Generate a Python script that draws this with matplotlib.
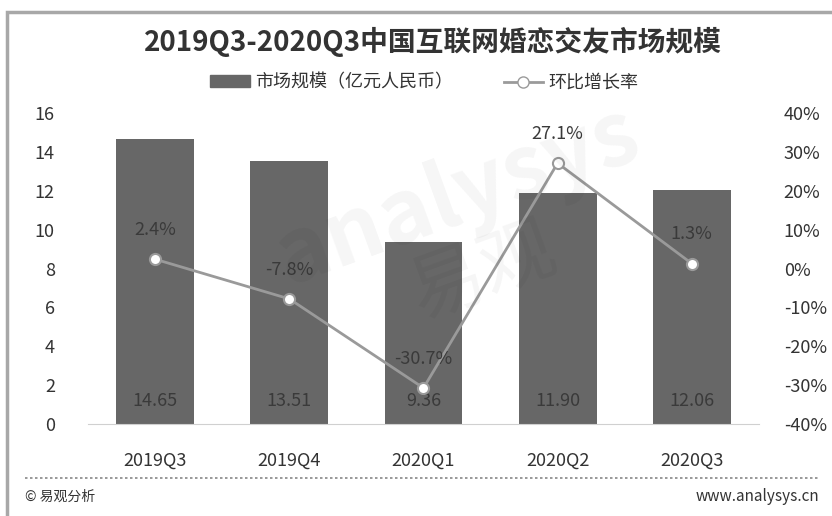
import matplotlib.pyplot as plt
from matplotlib.patches import Rectangle
from matplotlib.lines import Line2D

plt.rcParams['font.family'] = ['Noto Sans CJK SC', 'DejaVu Sans']

quarters = ["2019Q3", "2019Q4", "2020Q1", "2020Q2", "2020Q3"]
market_size = [14.65, 13.51, 9.36, 11.90, 12.06]
qoq_growth = [2.4, -7.8, -30.7, 27.1, 1.3]

fig = plt.figure(figsize=(8.32, 5.16), dpi=100)
fig.patch.set_facecolor("white")

# outer grey frame
fig.patches.append(Rectangle((0.009, -0.05), 1.2, 1.026, transform=fig.transFigure,
                             fill=False, edgecolor="#a8a8a8", linewidth=2.5))

ax = fig.add_axes([0.106, 0.178, 0.806, 0.603])
ax2 = ax.twinx()

x = range(len(quarters))
ax.bar(x, market_size, width=0.58, color="#676767", zorder=2)
for i, v in enumerate(market_size):
    ax.text(i, 1.2, f"{v:.2f}", ha="center", va="center", fontsize=13, color="#3a3a3a")

ax2.plot(x, qoq_growth, color="#9a9a9a", linewidth=2, marker="o", markersize=8,
         markerfacecolor="white", markeredgecolor="#9a9a9a", markeredgewidth=1.5, zorder=3)
for i, v in enumerate(qoq_growth):
    ax2.text(i, v + 7.5, f"{v:.1f}%", ha="center", va="center", fontsize=13, color="#3a3a3a")

ax.set_xlim(-0.5, 4.5)
ax.set_ylim(0, 16)
ax.set_yticks(range(0, 17, 2))
ax2.set_ylim(-40, 40)
ax2.set_yticks(range(-40, 41, 10))
ax2.set_yticklabels([f"{t}%" for t in range(-40, 41, 10)])
ax.set_xticks(list(x))
ax.set_xticklabels(quarters)

for a in (ax, ax2):
    for s in a.spines.values():
        s.set_visible(False)
    a.tick_params(length=0, labelsize=13, labelcolor="#333333")
ax.spines["bottom"].set_visible(True)
ax.spines["bottom"].set_color("#d0d0d0")
ax.tick_params(axis="x", pad=20)
ax.tick_params(axis="y", pad=24)
ax2.tick_params(axis="y", pad=18)

# faint watermark
fig.text(0.55, 0.62, "analysys", fontsize=64, color="#000000", alpha=0.04,
         rotation=20, ha="center", va="center", fontweight="bold", style="italic")
fig.text(0.58, 0.47, "易观", fontsize=54, color="#000000", alpha=0.04,
         rotation=20, ha="center", va="center")

fig.text(0.52, 0.918, "2019Q3-2020Q3中国互联网婚恋交友市场规模", ha="center", va="center",
         fontsize=20, fontweight="bold", color="#333333")

handles = [Rectangle((0, 0), 1, 1, color="#676767"),
           Line2D([], [], color="#9a9a9a", linewidth=2, marker="o", markersize=8,
                  markerfacecolor="white", markeredgecolor="#9a9a9a")]
fig.legend(handles, ["市场规模（亿元人民币）", "环比增长率"], loc="center", bbox_to_anchor=(0.51, 0.84),
           ncol=2, frameon=False, fontsize=13, handlelength=2.2, handleheight=0.6,
           columnspacing=2.8, handletextpad=0.3, labelcolor="#333333")

fig.add_artist(Line2D([0.03, 0.985], [0.073, 0.073], color="#888888", linewidth=1.2,
                      linestyle=(0, (1.5, 1.5)), transform=fig.transFigure))
fig.text(0.03, 0.037, "© 易观分析", ha="left", va="center", fontsize=10, color="#333333")
fig.text(0.985, 0.037, "www.analysys.cn", ha="right", va="center", fontsize=11, color="#333333")

fig.savefig("out.png", dpi=100, facecolor="white")
